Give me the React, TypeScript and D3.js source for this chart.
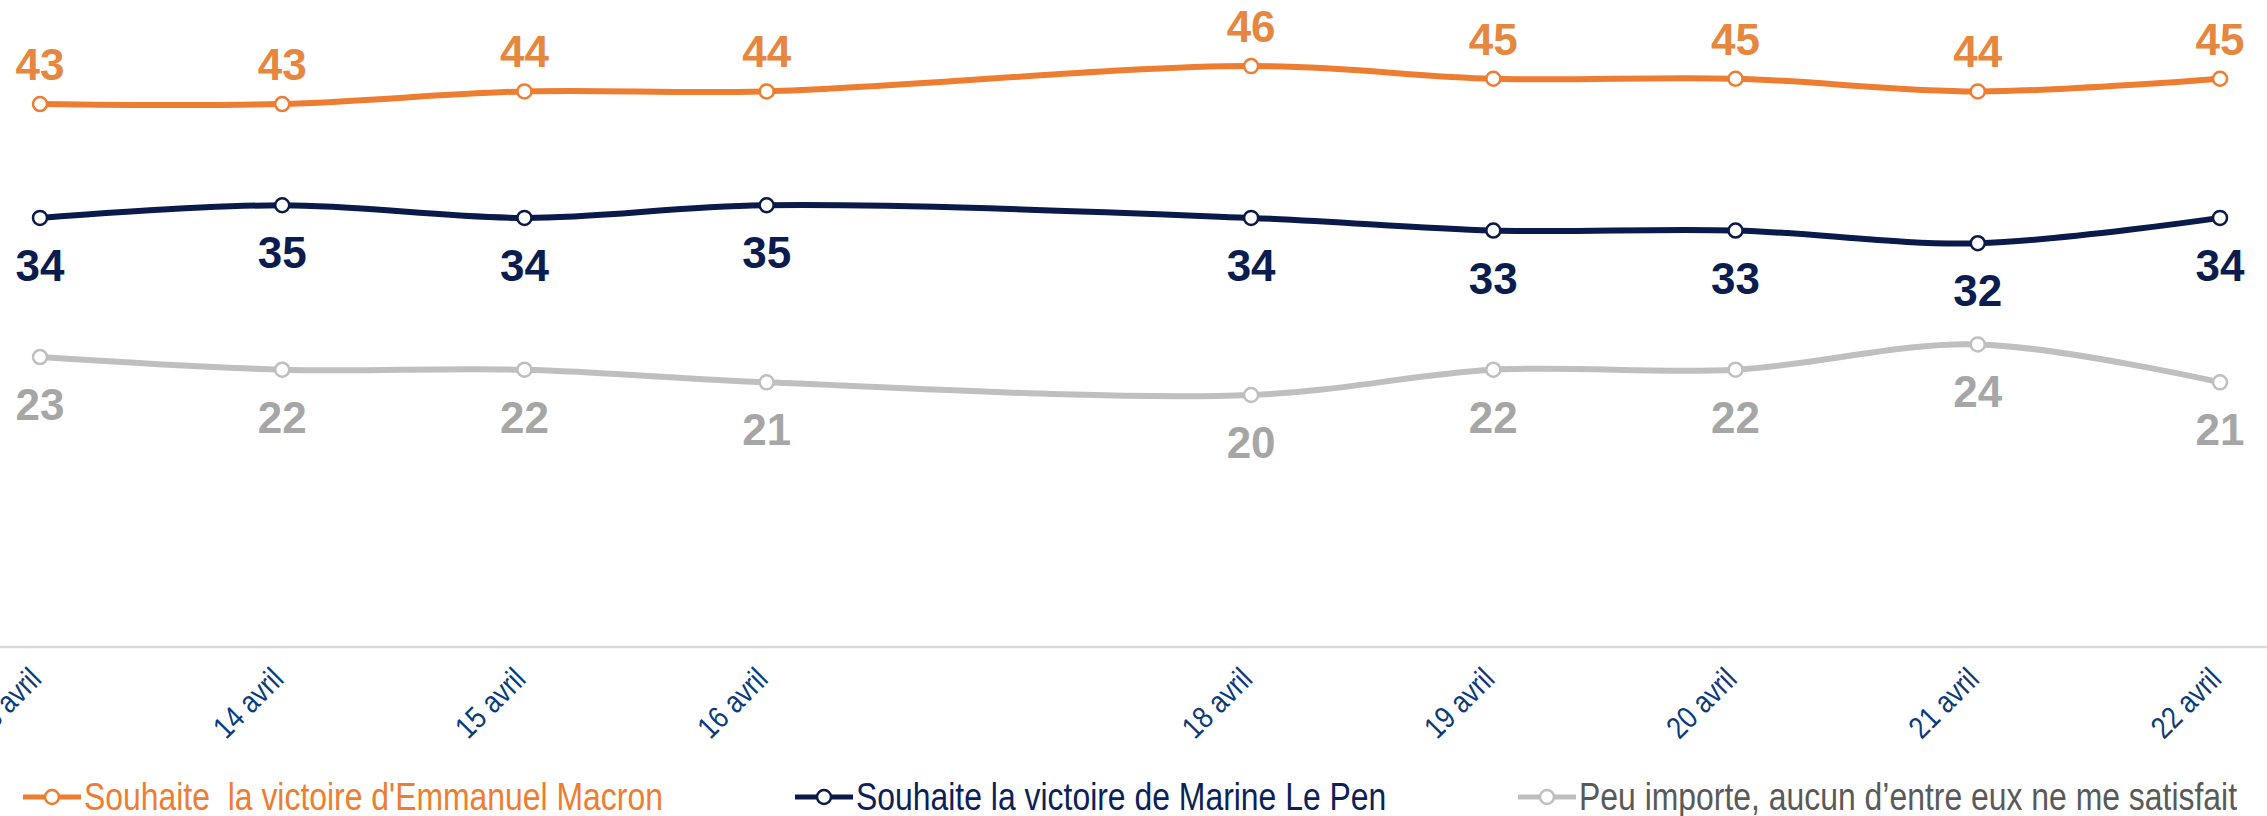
import React, { useRef, useEffect } from 'react';
import * as d3 from 'd3';

const days = [13, 14, 15, 16, 18, 19, 20, 21, 22];
const dayLabels = ['13 avril', '14 avril', '15 avril', '16 avril', '18 avril', '19 avril', '20 avril', '21 avril', '22 avril'];

const macron = [43, 43, 44, 44, 46, 45, 45, 44, 45];
const lePen = [34, 35, 34, 35, 34, 33, 33, 32, 34];
const aucun = [23, 22, 22, 21, 20, 22, 22, 24, 21];

const seriesNames = [
  "Souhaite  la victoire d'Emmanuel Macron",
  'Souhaite la victoire de Marine Le Pen',
  'Peu importe, aucun d\u2019entre eux ne me satisfait',
];

function App() {
  const d3Container = useRef(null);

  useEffect(() => {
    if (!d3Container.current) return;
    const svg = d3.select(d3Container.current);
    svg.selectAll('*').remove();

    const width = 2267;
    const height = 816;
    const axisY = 647;

    const x = d3.scaleLinear().domain([13, 22]).range([40, 2220]);
    const y = d3.scaleLinear().domain([0, 50]).range([648, 15.5]);

    const font = "'Liberation Sans', Arial, sans-serif";
    // the original uses a condensed face; squeeze the regular one
    const narrow = 0.84;

    svg.append('rect').attr('width', width).attr('height', height).attr('fill', 'white');

    // x axis line
    svg.append('line')
      .attr('x1', 0).attr('x2', width)
      .attr('y1', axisY).attr('y2', axisY)
      .attr('stroke', '#d9d9d9')
      .attr('stroke-width', 2.5);

    // rotated date labels
    svg.selectAll('.day-label')
      .data(days)
      .enter().append('text')
      .attr('class', 'day-label')
      .attr('transform', d => `translate(${x(d) + 3}, ${axisY + 34}) rotate(-45) scale(${narrow}, 1)`)
      .attr('text-anchor', 'end')
      .attr('fill', '#0b3b7a')
      .style('font-family', font)
      .style('font-size', '31px')
      .text((_, i) => dayLabels[i]);

    const series = [
      { values: macron, line: '#ed7d31', label: '#e5873f', above: true },
      { values: lePen, line: '#0a1a4a', label: '#0b1c4e', above: false },
      { values: aucun, line: '#bfbfbf', label: '#a6a6a6', above: false },
    ];

    const line = d3.line()
      .x((_, i) => x(days[i]))
      .y(d => y(d))
      .curve(d3.curveCatmullRom);

    // draw gray first so the others sit on top
    [...series].reverse().forEach(s => {
      const g = svg.append('g');
      g.append('path')
        .datum(s.values)
        .attr('d', line)
        .attr('fill', 'none')
        .attr('stroke', s.line)
        .attr('stroke-width', 6);

      g.selectAll('circle')
        .data(s.values)
        .enter().append('circle')
        .attr('cx', (_, i) => x(days[i]))
        .attr('cy', d => y(d))
        .attr('r', 7)
        .attr('fill', 'white')
        .attr('stroke', s.line)
        .attr('stroke-width', 2.5);

      g.selectAll('.value-label')
        .data(s.values)
        .enter().append('text')
        .attr('class', 'value-label')
        .attr('x', (_, i) => x(days[i]))
        .attr('y', d => y(d) + (s.above ? -24 : 63))
        .attr('text-anchor', 'middle')
        .attr('fill', s.label)
        .style('font-family', font)
        .style('font-weight', 'bold')
        .style('font-size', '44px')
        .text(d => d);
    });

    // legend
    const legendX = [23, 795, 1518];
    const legendText = ['#ed7d31', '#0c2157', '#595959'];
    const legendY = 797;
    series.forEach((s, i) => {
      const g = svg.append('g').attr('transform', `translate(${legendX[i]}, ${legendY})`);
      g.append('line')
        .attr('x1', 0).attr('x2', 58)
        .attr('y1', 0).attr('y2', 0)
        .attr('stroke', s.line)
        .attr('stroke-width', 5);
      g.append('circle')
        .attr('cx', 29).attr('cy', 0).attr('r', 7)
        .attr('fill', 'white')
        .attr('stroke', s.line)
        .attr('stroke-width', 2.5);
      g.append('text')
        .attr('transform', `translate(61, 13) scale(${narrow}, 1)`)
        .attr('fill', legendText[i])
        .style('font-family', font)
        .style('font-size', '38px')
        .style('white-space', 'pre')
        .text(seriesNames[i]);
    });
  }, []);

  return (
    <svg ref={d3Container} width={2267} height={816} style={{ position: 'absolute', left: 0, top: 0 }} />
  );
}

export default App;
